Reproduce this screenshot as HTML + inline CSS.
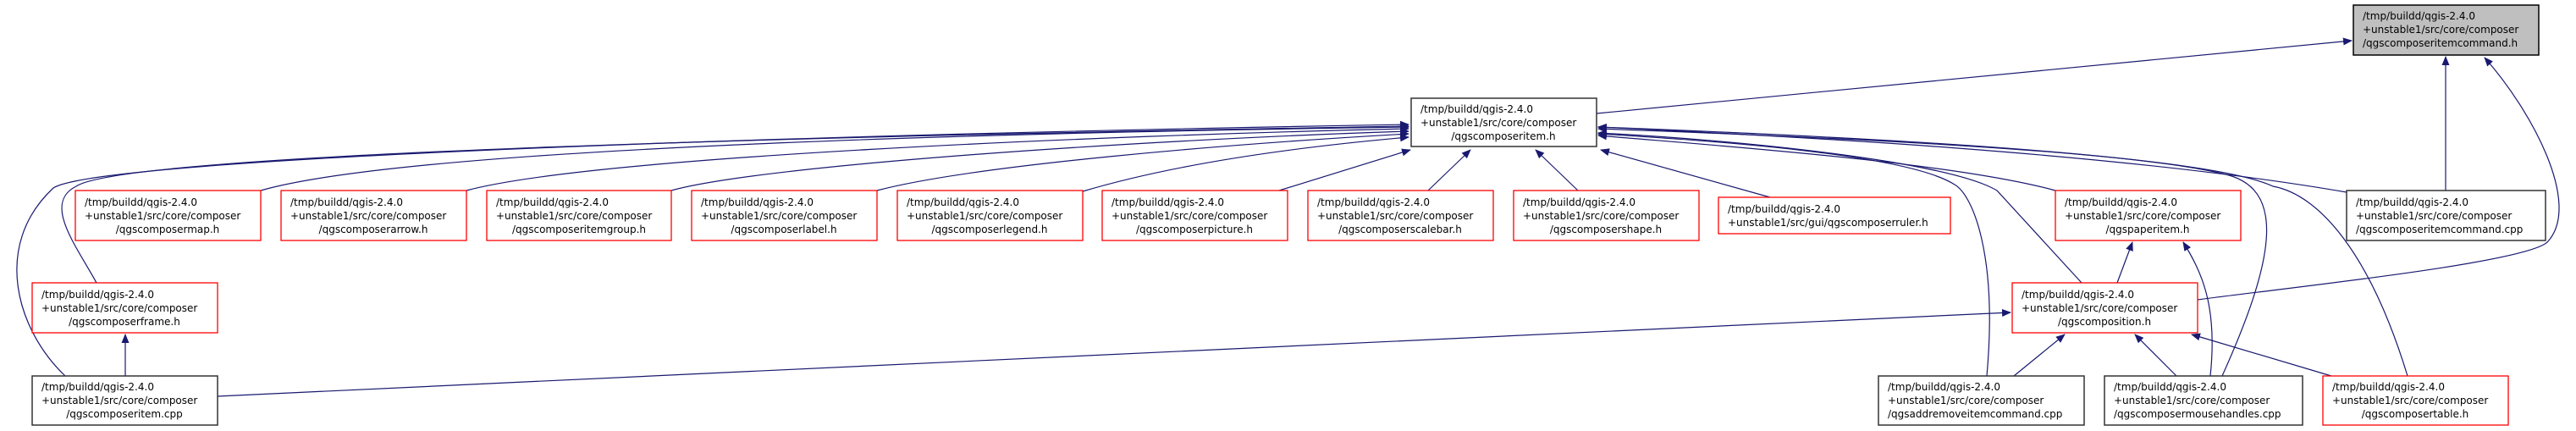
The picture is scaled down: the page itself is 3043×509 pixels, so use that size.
<!DOCTYPE html>
<html><head><meta charset="utf-8"><style>
html,body{margin:0;padding:0;background:#fff;}
svg{display:block;}
text{font-family:"DejaVu Sans","Liberation Sans",sans-serif;font-size:12px;fill:#000;}
.r{fill:#fff;stroke:#ff0000;stroke-width:1.3;}
.b{fill:#fff;stroke:#333;stroke-width:1.5;}
.g{fill:#bfbfbf;stroke:#000;stroke-width:1.5;}
.e{fill:none;stroke:#191970;stroke-width:1.2;marker-end:url(#ah);}
</style></head><body>
<svg width="3043" height="509" viewBox="0 0 3043 509" xmlns="http://www.w3.org/2000/svg">
<defs><marker id="ah" markerUnits="userSpaceOnUse" markerWidth="11" markerHeight="9" refX="10" refY="4.5" orient="auto"><path d="M0,0 L11,4.5 L0,9 z" fill="#191970"/></marker></defs>

<!-- edges -->
<path class="e" d="M1886,134 L2778,48"/>
<path class="e" d="M2889,225 L2889,67"/>
<path class="e" d="M2596,354 C2700,340 2990,310 3010,285 C3050,240 2990,130 2935,68"/>

<path class="e" d="M308,225 C500,170 1300,155 1664,150"/>
<path class="e" d="M551,225 C700,185 1300,160 1664,152"/>
<path class="e" d="M793,225 C900,195 1350,165 1664,155"/>
<path class="e" d="M1036,225 C1150,195 1450,170 1664,158"/>
<path class="e" d="M1279,226 C1400,190 1550,172 1664,162"/>
<path class="e" d="M1511,225 L1666,177"/>
<path class="e" d="M1687,225 L1737,177"/>
<path class="e" d="M1864,225 L1814,177"/>
<path class="e" d="M2091,233 L1891,177"/>
<path class="e" d="M114,334 C90,290 50,240 90,220 C150,180 1000,160 1664,149"/>
<path class="e" d="M77,444 C20,390 -10,290 63,222 C120,185 1000,158 1664,147"/>
<path class="e" d="M148,444 L148,395"/>
<path class="e" d="M257,468 L2375,369"/>

<path class="e" d="M2772,227 C2500,180 2100,160 1888,150"/>
<path class="e" d="M2428,225 C2300,190 2000,170 1888,160"/>
<path class="e" d="M2459,334 L2359,225 C2300,190 2050,165 1888,157"/>
<path class="e" d="M2347,444 C2360,300 2330,230 2309,218 C2250,180 2000,165 1888,158"/>
<path class="e" d="M2625,444 C2690,300 2700,220 2625,205 C2500,175 2100,160 1888,152"/>
<path class="e" d="M2844,444 C2800,300 2740,230 2685,220 C2600,180 2150,160 1888,150"/>
<path class="e" d="M2501,334 L2519,286"/>
<path class="e" d="M2611,444 C2620,360 2600,320 2579,286"/>
<path class="e" d="M2379,444 L2439,395"/>
<path class="e" d="M2571,444 L2522,395"/>
<path class="e" d="M2754,444 L2589,395"/>

<!-- nodes -->
<rect class="g" x="2780" y="6" width="219" height="59"/>
<text x="2791" y="23">/tmp/buildd/qgis-2.4.0</text><text x="2791" y="39">+unstable1/src/core/composer</text><text x="2791" y="55">/qgscomposeritemcommand.h</text>

<rect class="b" x="1667" y="116" width="219" height="57"/>
<text x="1678" y="133">/tmp/buildd/qgis-2.4.0</text><text x="1678" y="149">+unstable1/src/core/composer</text><text x="1776" y="165" text-anchor="middle">/qgscomposeritem.h</text>

<rect class="r" x="89" y="225" width="219" height="59"/>
<text x="100" y="243">/tmp/buildd/qgis-2.4.0</text><text x="100" y="259">+unstable1/src/core/composer</text><text x="198" y="275" text-anchor="middle">/qgscomposermap.h</text>

<rect class="r" x="332" y="225" width="219" height="59"/>
<text x="343" y="243">/tmp/buildd/qgis-2.4.0</text><text x="343" y="259">+unstable1/src/core/composer</text><text x="441" y="275" text-anchor="middle">/qgscomposerarrow.h</text>

<rect class="r" x="575" y="225" width="218" height="59"/>
<text x="586" y="243">/tmp/buildd/qgis-2.4.0</text><text x="586" y="259">+unstable1/src/core/composer</text><text x="684" y="275" text-anchor="middle">/qgscomposeritemgroup.h</text>

<rect class="r" x="817" y="225" width="219" height="59"/>
<text x="828" y="243">/tmp/buildd/qgis-2.4.0</text><text x="828" y="259">+unstable1/src/core/composer</text><text x="926" y="275" text-anchor="middle">/qgscomposerlabel.h</text>

<rect class="r" x="1060" y="225" width="219" height="59"/>
<text x="1071" y="243">/tmp/buildd/qgis-2.4.0</text><text x="1071" y="259">+unstable1/src/core/composer</text><text x="1169" y="275" text-anchor="middle">/qgscomposerlegend.h</text>

<rect class="r" x="1302" y="225" width="219" height="59"/>
<text x="1313" y="243">/tmp/buildd/qgis-2.4.0</text><text x="1313" y="259">+unstable1/src/core/composer</text><text x="1411" y="275" text-anchor="middle">/qgscomposerpicture.h</text>

<rect class="r" x="1545" y="225" width="219" height="59"/>
<text x="1556" y="243">/tmp/buildd/qgis-2.4.0</text><text x="1556" y="259">+unstable1/src/core/composer</text><text x="1654" y="275" text-anchor="middle">/qgscomposerscalebar.h</text>

<rect class="r" x="1788" y="225" width="219" height="59"/>
<text x="1799" y="243">/tmp/buildd/qgis-2.4.0</text><text x="1799" y="259">+unstable1/src/core/composer</text><text x="1897" y="275" text-anchor="middle">/qgscomposershape.h</text>

<rect class="r" x="2030" y="233" width="274" height="43"/>
<text x="2041" y="251">/tmp/buildd/qgis-2.4.0</text><text x="2041" y="267">+unstable1/src/gui/qgscomposerruler.h</text>

<rect class="r" x="2428" y="225" width="219" height="59"/>
<text x="2439" y="243">/tmp/buildd/qgis-2.4.0</text><text x="2439" y="259">+unstable1/src/core/composer</text><text x="2537" y="275" text-anchor="middle">/qgspaperitem.h</text>

<rect class="b" x="2772" y="225" width="235" height="59"/>
<text x="2783" y="243">/tmp/buildd/qgis-2.4.0</text><text x="2783" y="259">+unstable1/src/core/composer</text><text x="2783" y="275">/qgscomposeritemcommand.cpp</text>

<rect class="r" x="38" y="334" width="219" height="59"/>
<text x="49" y="352">/tmp/buildd/qgis-2.4.0</text><text x="49" y="368">+unstable1/src/core/composer</text><text x="147" y="384" text-anchor="middle">/qgscomposerframe.h</text>

<rect class="r" x="2377" y="334" width="219" height="59"/>
<text x="2388" y="352">/tmp/buildd/qgis-2.4.0</text><text x="2388" y="368">+unstable1/src/core/composer</text><text x="2486" y="384" text-anchor="middle">/qgscomposition.h</text>

<rect class="b" x="38" y="444" width="219" height="58"/>
<text x="49" y="461">/tmp/buildd/qgis-2.4.0</text><text x="49" y="477">+unstable1/src/core/composer</text><text x="147" y="493" text-anchor="middle">/qgscomposeritem.cpp</text>

<rect class="b" x="2219" y="444" width="243" height="58"/>
<text x="2230" y="461">/tmp/buildd/qgis-2.4.0</text><text x="2230" y="477">+unstable1/src/core/composer</text><text x="2230" y="493">/qgsaddremoveitemcommand.cpp</text>

<rect class="b" x="2486" y="444" width="234" height="58"/>
<text x="2497" y="461">/tmp/buildd/qgis-2.4.0</text><text x="2497" y="477">+unstable1/src/core/composer</text><text x="2497" y="493">/qgscomposermousehandles.cpp</text>

<rect class="r" x="2744" y="444" width="219" height="58"/>
<text x="2755" y="461">/tmp/buildd/qgis-2.4.0</text><text x="2755" y="477">+unstable1/src/core/composer</text><text x="2853" y="493" text-anchor="middle">/qgscomposertable.h</text>
</svg>
</body></html>
